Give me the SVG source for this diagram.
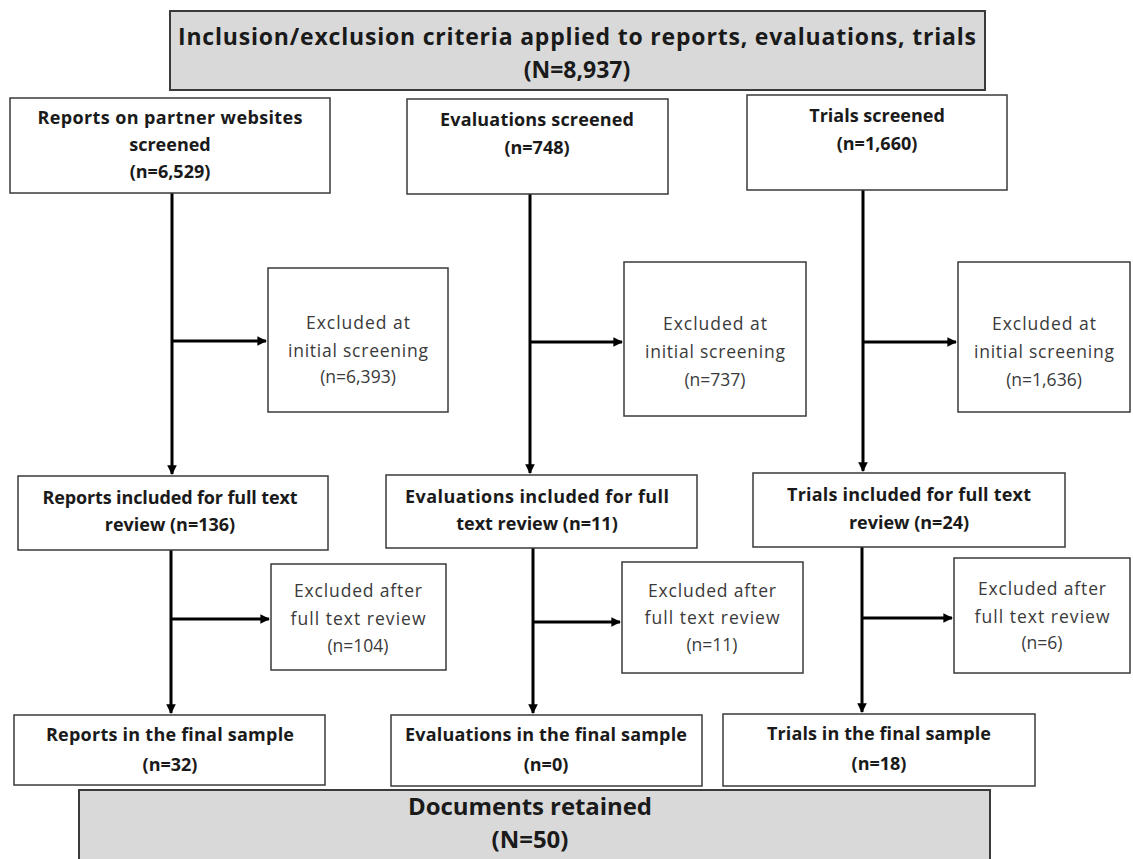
<svg xmlns="http://www.w3.org/2000/svg" width="1133" height="859" viewBox="0 0 1133 859">
<style>
.box{fill:#ffffff;stroke:#3a3a3a;stroke-width:1.5}
.gray{fill:#d9d9d9;stroke:#3a3a3a;stroke-width:2}
.b{font-family:"Open Sans",Lato,"Liberation Sans",sans-serif;font-weight:bold;font-size:18px;fill:#1a1a1a;text-anchor:middle}
.r{font-family:"Open Sans",Lato,"Liberation Sans",sans-serif;font-size:17.5px;fill:#3a3a3a;text-anchor:middle}
.big{font-family:"Open Sans",Lato,"Liberation Sans",sans-serif;font-weight:bold;font-size:23px;fill:#1a1a1a;text-anchor:middle}
.big2{font-family:"Open Sans",Lato,"Liberation Sans",sans-serif;font-weight:bold;font-size:24px;fill:#1a1a1a;text-anchor:middle}
.ln{stroke:#000;stroke-width:3;fill:none}
</style>
<defs>
<marker id="ah" viewBox="0 0 10 10" refX="9" refY="5" markerWidth="3.6" markerHeight="3.2" orient="auto" markerUnits="strokeWidth">
<path d="M0,0 L10,5 L0,10 Z" fill="#000"/>
</marker>
</defs>

<g id="connectors">
<line class="ln" x1="172" y1="193" x2="172" y2="474" marker-end="url(#ah)"/>
<line class="ln" x1="530" y1="194" x2="530" y2="473" marker-end="url(#ah)"/>
<line class="ln" x1="863" y1="190" x2="863" y2="471" marker-end="url(#ah)"/>
<line class="ln" x1="172" y1="341" x2="266" y2="341" marker-end="url(#ah)"/>
<line class="ln" x1="530" y1="342" x2="622" y2="342" marker-end="url(#ah)"/>
<line class="ln" x1="863" y1="342" x2="956" y2="342" marker-end="url(#ah)"/>
<line class="ln" x1="171" y1="550" x2="171" y2="713" marker-end="url(#ah)"/>
<line class="ln" x1="533" y1="548" x2="533" y2="713" marker-end="url(#ah)"/>
<line class="ln" x1="862" y1="547" x2="862" y2="712" marker-end="url(#ah)"/>
<line class="ln" x1="171" y1="619" x2="269" y2="619" marker-end="url(#ah)"/>
<line class="ln" x1="533" y1="622" x2="620" y2="622" marker-end="url(#ah)"/>
<line class="ln" x1="862" y1="618" x2="952" y2="618" marker-end="url(#ah)"/>
</g>

<g id="top">
<rect class="gray" x="170" y="11" width="815" height="79"/>
<text class="big" x="577" y="45" textLength="798" lengthAdjust="spacing">Inclusion/exclusion  criteria applied to reports, evaluations, trials</text>
<text class="big" x="577" y="78">(N=8,937)</text>
</g>

<g id="reports-screened">
<rect class="box" x="10" y="98" width="320" height="95"/>
<text class="b" x="170" y="124" textLength="265" lengthAdjust="spacing">Reports on partner websites</text>
<text class="b" x="170" y="151">screened</text>
<text class="b" x="170" y="178">(n=6,529)</text>
</g>

<g id="evaluations-screened">
<rect class="box" x="407" y="99" width="261" height="95"/>
<text class="b" x="537" y="126" textLength="194" lengthAdjust="spacing">Evaluations screened</text>
<text class="b" x="537" y="154">(n=748)</text>
</g>

<g id="trials-screened">
<rect class="box" x="747" y="95" width="260" height="95"/>
<text class="b" x="877" y="122">Trials screened</text>
<text class="b" x="877" y="150">(n=1,660)</text>
</g>

<g id="excl-initial-reports">
<rect class="box" x="268" y="268" width="180" height="144"/>
<text class="r" x="358" y="329" textLength="104" lengthAdjust="spacing">Excluded  at</text>
<text class="r" x="358" y="357" textLength="140" lengthAdjust="spacing">initial screening</text>
<text class="r" x="358" y="383">(n=6,393)</text>
</g>

<g id="excl-initial-evaluations">
<rect class="box" x="624" y="262" width="182" height="154"/>
<text class="r" x="715" y="330" textLength="104" lengthAdjust="spacing">Excluded  at</text>
<text class="r" x="715" y="358" textLength="140" lengthAdjust="spacing">initial screening</text>
<text class="r" x="715" y="386">(n=737)</text>
</g>

<g id="excl-initial-trials">
<rect class="box" x="958" y="262" width="172" height="150"/>
<text class="r" x="1044" y="330" textLength="104" lengthAdjust="spacing">Excluded  at</text>
<text class="r" x="1044" y="358" textLength="140" lengthAdjust="spacing">initial screening</text>
<text class="r" x="1044" y="386">(n=1,636)</text>
</g>

<g id="reports-included">
<rect class="box" x="18" y="476" width="310" height="74"/>
<text class="b" x="170" y="504" textLength="255" lengthAdjust="spacing">Reports included  for full text</text>
<text class="b" x="170" y="531">review (n=136)</text>
</g>

<g id="evaluations-included">
<rect class="box" x="386" y="475" width="311" height="73"/>
<text class="b" x="537" y="503" textLength="264" lengthAdjust="spacing">Evaluations  included  for full</text>
<text class="b" x="537" y="530">text review (n=11)</text>
</g>

<g id="trials-included">
<rect class="box" x="753" y="473" width="312" height="74"/>
<text class="b" x="909" y="501" textLength="244" lengthAdjust="spacing">Trials  included  for full text</text>
<text class="b" x="909" y="529">review (n=24)</text>
</g>

<g id="excl-full-reports">
<rect class="box" x="271" y="564" width="175" height="106"/>
<text class="r" x="358" y="597" textLength="128" lengthAdjust="spacing">Excluded  after</text>
<text class="r" x="358" y="625" textLength="135" lengthAdjust="spacing">full text review</text>
<text class="r" x="358" y="652">(n=104)</text>
</g>

<g id="excl-full-evaluations">
<rect class="box" x="622" y="562" width="181" height="111"/>
<text class="r" x="712" y="597" textLength="128" lengthAdjust="spacing">Excluded  after</text>
<text class="r" x="712" y="624" textLength="135" lengthAdjust="spacing">full text review</text>
<text class="r" x="712" y="651">(n=11)</text>
</g>

<g id="excl-full-trials">
<rect class="box" x="954" y="558" width="176" height="115"/>
<text class="r" x="1042" y="595" textLength="128" lengthAdjust="spacing">Excluded  after</text>
<text class="r" x="1042" y="623" textLength="135" lengthAdjust="spacing">full text review</text>
<text class="r" x="1042" y="649">(n=6)</text>
</g>

<g id="reports-final">
<rect class="box" x="14" y="715" width="311" height="70"/>
<text class="b" x="170" y="741" textLength="248" lengthAdjust="spacing">Reports in the final  sample</text>
<text class="b" x="170" y="771">(n=32)</text>
</g>

<g id="evaluations-final">
<rect class="box" x="391" y="715" width="311" height="71"/>
<text class="b" x="546" y="741" textLength="282" lengthAdjust="spacing">Evaluations in the final  sample</text>
<text class="b" x="546" y="771">(n=0)</text>
</g>

<g id="trials-final">
<rect class="box" x="723" y="714" width="312" height="72"/>
<text class="b" x="879" y="740" textLength="224" lengthAdjust="spacing">Trials  in the final  sample</text>
<text class="b" x="879" y="770">(n=18)</text>
</g>

<g id="documents-retained">
<rect class="gray" x="79" y="790" width="911" height="80"/>
<text class="big2" x="530" y="815" textLength="244" lengthAdjust="spacing">Documents retained</text>
<text class="big2" x="530" y="848">(N=50)</text>
</g>
</svg>
